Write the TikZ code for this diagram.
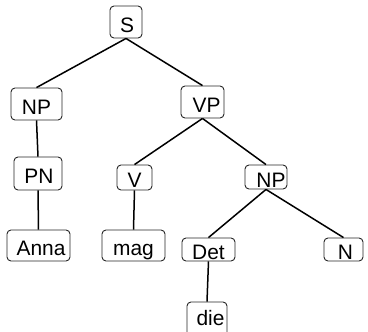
\documentclass[tikz,border=0pt]{standalone}
\usepackage{fontspec}
\setmainfont{Liberation Sans}
\begin{document}
\begin{tikzpicture}[x=1bp,y=-1bp,
  box/.style={draw=black!85, line width=0.9bp, rounded corners=4bp, inner sep=0pt,
    text height=20bp, text depth=0bp,
    font=\fontsize{21}{24}\selectfont},
  edge/.style={draw=black, line width=1.5bp}]
\clip (0,0) rectangle (368,332);
\useasboundingbox (0,0) rectangle (368,332);
\node[box, minimum width=32bp, minimum height=32bp] (S) at (126,22) {\hspace{2bp}S};
\node[box, minimum width=51bp, minimum height=32bp] (NPa) at (36.5,104) {NP};
\node[box, minimum width=43bp, minimum height=32bp] (VP) at (202.5,102) {\hspace{8bp}VP};
\node[box, minimum width=48bp, minimum height=33bp] (PN) at (38,173.5) {\hspace{2bp}PN};
\node[box, minimum width=35bp, minimum height=25bp] (V) at (134.5,177.5) {V};
\node[box, minimum width=42bp, minimum height=24bp] (NPb) at (266,177) {\hspace{10bp}NP};
\node[box, minimum width=63bp, minimum height=31bp] (Anna) at (38.5,245.5) {\hspace{5bp}Anna};
\node[box, minimum width=63bp, minimum height=31bp] (mag) at (133.5,245.5) {mag};
\node[box, minimum width=53bp, minimum height=23bp] (Det) at (208.5,249.5) {Det};
\node[box, minimum width=39bp, minimum height=23bp] (N) at (343.5,249.5) {\hspace{4bp}N};
\node[box, minimum width=40bp, minimum height=40bp, text height=7bp] (die) at (207,322) {\hspace{7bp}die};
\draw[edge] (S.south) -- (NPa.north);
\draw[edge] (S.south) -- (VP.north);
\draw[edge] (NPa.south) -- (PN.north);
\draw[edge] (PN.south) -- (Anna.north);
\draw[edge] (VP.south) -- (V.north);
\draw[edge] (VP.south) -- (NPb.north);
\draw[edge] (V.south) -- (mag.north);
\draw[edge] (NPb.south) -- (Det.north);
\draw[edge] (NPb.south) -- (N.north);
\draw[edge] (Det.south) -- (die.north);
\end{tikzpicture}
\end{document}
